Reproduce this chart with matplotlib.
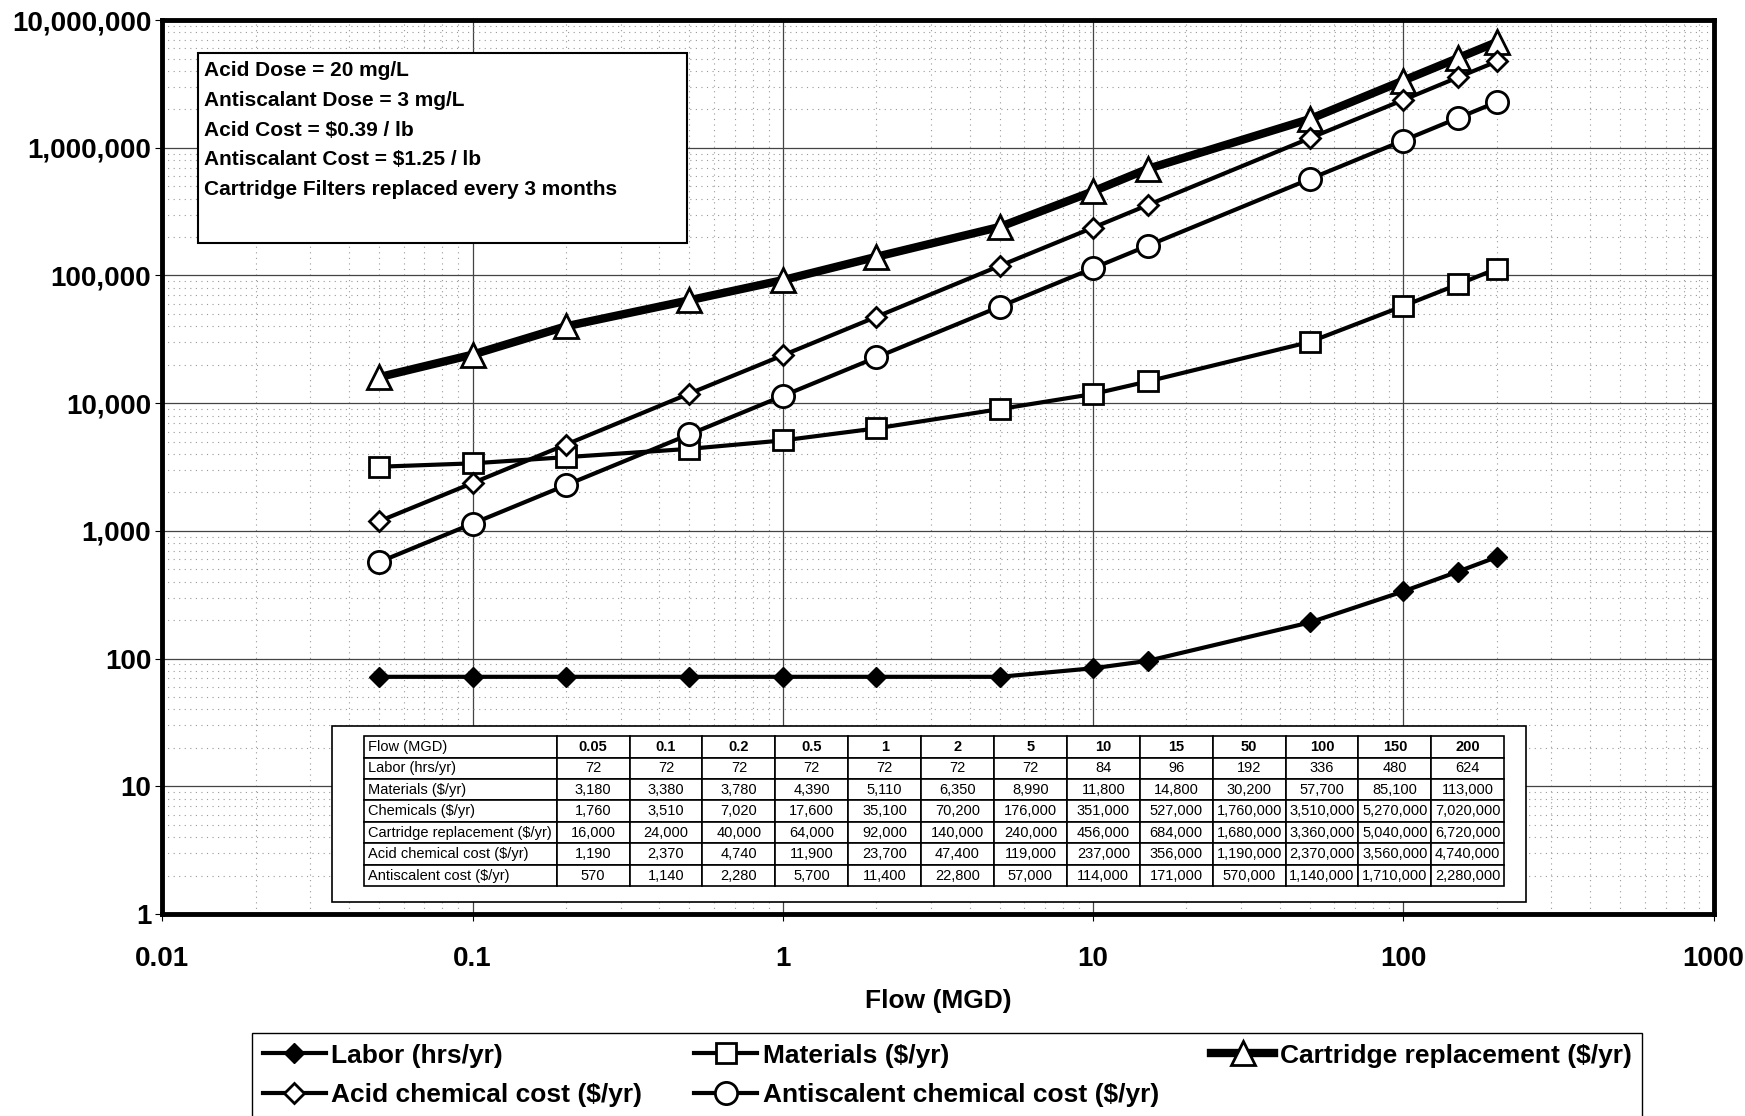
import matplotlib
matplotlib.use("Agg")
import matplotlib.pyplot as plt
from matplotlib.patches import Rectangle
from matplotlib.ticker import FuncFormatter, LogLocator, NullFormatter

plt.rcParams['font.family'] = ['Liberation Sans', 'DejaVu Sans']
plt.rcParams['font.weight'] = 'bold'

flow = [0.05, 0.1, 0.2, 0.5, 1, 2, 5, 10, 15, 50, 100, 150, 200]
labor = [72, 72, 72, 72, 72, 72, 72, 84, 96, 192, 336, 480, 624]
materials = [3180, 3380, 3780, 4390, 5110, 6350, 8990, 11800, 14800, 30200, 57700, 85100, 113000]
chemicals = [1760, 3510, 7020, 17600, 35100, 70200, 176000, 351000, 527000,
             1760000, 3510000, 5270000, 7020000]
cartridge = [16000, 24000, 40000, 64000, 92000, 140000, 240000, 456000, 684000,
             1680000, 3360000, 5040000, 6720000]
acid = [1190, 2370, 4740, 11900, 23700, 47400, 119000, 237000, 356000,
        1190000, 2370000, 3560000, 4740000]
antiscalent = [570, 1140, 2280, 5700, 11400, 22800, 57000, 114000, 171000,
               570000, 1140000, 1710000, 2280000]

row_labels = ['Flow (MGD)', 'Labor (hrs/yr)', 'Materials ($/yr)', 'Chemicals ($/yr)',
              'Cartridge replacement ($/yr)', 'Acid chemical cost ($/yr)',
              'Antiscalent cost ($/yr)']
notes = ['Acid Dose = 20 mg/L', 'Antiscalant Dose = 3 mg/L', 'Acid Cost = $0.39 / lb',
         'Antiscalant Cost = $1.25 / lb', 'Cartridge Filters replaced every 3 months']

fig = plt.figure(figsize=(17.45, 11.16), dpi=100)
ax = fig.add_axes([0.093, 0.181, 0.889, 0.801])

l_labor, = ax.plot(flow, labor, color='black', lw=3, marker='D', ms=10,
                   mfc='black', mec='black', label='Labor (hrs/yr)', zorder=5)
l_mat, = ax.plot(flow, materials, color='black', lw=3, marker='s', ms=15,
                 mfc='white', mec='black', mew=2, label='Materials ($/yr)', zorder=5)
l_cart, = ax.plot(flow, cartridge, color='black', lw=6, marker='^', ms=17,
                  mfc='white', mec='black', mew=2, label='Cartridge replacement ($/yr)', zorder=5)
l_acid, = ax.plot(flow, acid, color='black', lw=3, marker='D', ms=10,
                  mfc='white', mec='black', mew=2, label='Acid chemical cost ($/yr)', zorder=5)
l_anti, = ax.plot(flow, antiscalent, color='black', lw=3, marker='o', ms=16,
                  mfc='white', mec='black', mew=2, label='Antiscalent chemical cost ($/yr)', zorder=5)

ax.set_xscale('log')
ax.set_yscale('log')
ax.set_xlim(0.01, 1000)
ax.set_ylim(1, 10000000)
ax.xaxis.set_major_formatter(FuncFormatter(lambda v, p: f'{v:g}'))
ax.yaxis.set_major_formatter(FuncFormatter(lambda v, p: f'{int(v):,}'))
ax.yaxis.set_major_locator(LogLocator(base=10, numticks=10))
ax.yaxis.set_minor_locator(LogLocator(base=10, subs=range(2, 10), numticks=100))
ax.xaxis.set_minor_locator(LogLocator(base=10, subs=range(2, 10), numticks=100))
ax.xaxis.set_minor_formatter(NullFormatter())
ax.yaxis.set_minor_formatter(NullFormatter())
ax.grid(True, which='major', color='#444444', lw=0.9)
ax.grid(True, which='minor', color='#999999', lw=0.8, ls=(0, (1, 4)))
ax.set_axisbelow(True)
ax.tick_params(axis='both', which='major', labelsize=20, length=5)
ax.tick_params(axis='x', which='major', pad=18)
ax.tick_params(axis='y', which='major', pad=3)
ax.tick_params(which='minor', length=0)
for s in ax.spines.values():
    s.set_linewidth(3.5)
ax.set_xlabel('Flow (MGD)', fontsize=19, fontweight='bold', labelpad=12)

# cadre des hypotheses
ax.add_patch(Rectangle((0.023, 0.751), 0.315, 0.212, transform=ax.transAxes,
                       facecolor='white', edgecolor='black', lw=1.5, zorder=3))
for i, t in enumerate(notes):
    ax.text(0.027, 0.944 - i * 0.0335, t, transform=ax.transAxes, fontsize=15,
            fontweight='bold', va='center', ha='left', zorder=4)

# tableau des valeurs
ax.add_patch(Rectangle((0.1095, 0.013), 0.7695, 0.197, transform=ax.transAxes,
                       facecolor='white', edgecolor='black', lw=1.2, zorder=3))
series = [labor, materials, chemicals, cartridge, acid, antiscalent]
cells = [[row_labels[0]] + [f'{v:g}' for v in flow]]
for lab, vals in zip(row_labels[1:], series):
    cells.append([lab] + [f'{v:,}' for v in vals])
widths = [0.169] + [0.0639] * len(flow)
tab = ax.table(cellText=cells, colWidths=widths, bbox=[0.130, 0.031, 0.735, 0.168],
               cellLoc='center', zorder=4)
tab.auto_set_font_size(False)
for (r, c), cell in tab.get_celld().items():
    cell.set_linewidth(1.2)
    cell.get_text().set_fontsize(10.5)
    cell.get_text().set_fontfamily(['Liberation Sans Narrow', 'Liberation Sans'])
    cell.get_text().set_fontweight('normal')
    if c == 0:
        cell.get_text().set_ha('left')
        cell.PAD = 0.02
    if r == 0 and c > 0:
        cell.get_text().set_fontweight('bold')

fig.legend(handles=[l_labor, l_acid, l_mat, l_anti, l_cart], ncol=3,
           loc='upper left', bbox_to_anchor=(0.1444, 0.0, 0.7966, 0.0744),
           mode='expand', borderaxespad=0, handlelength=2.4,
           handletextpad=0.2, columnspacing=1.0, labelspacing=0.6,
           frameon=True, fancybox=False, edgecolor='black', framealpha=1,
           prop={'weight': 'bold', 'size': 19})

fig.savefig('out.png', dpi=100)
